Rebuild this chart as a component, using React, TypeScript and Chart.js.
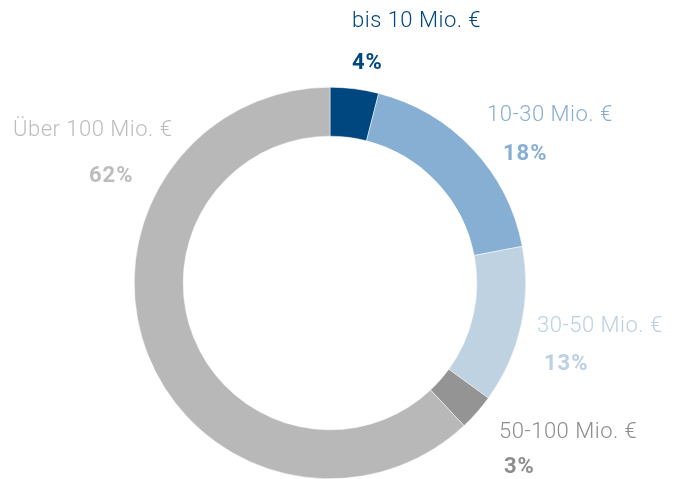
import React, { useEffect, useRef } from "react";
import { Chart, registerables } from "chart.js";

Chart.register(...registerables);

const categories = ["bis 10 Mio. €", "10-30 Mio. €", "30-50 Mio. €", "50-100 Mio. €", "Über 100 Mio. €"];
const shares = [4, 18, 13, 3, 62];
const percentLabels = ["4%", "18%", "13%", "3%", "62%"];
const sliceColors = ["#00467f", "#87afd4", "#bfd2e2", "#949494", "#b8b8b8"];
const textColors = ["#00467f", "#87afd4", "#bcd0e2", "#8e8e8e", "#bdbdbd"];

// layout: [name x, name baseline, percent x, percent baseline]
const labelLayout = [
  [352, 27, 352, 69],
  [487, 121, 503, 160],
  [537, 332, 544, 370],
  [499, 438, 504, 473],
  [13, 136, 89, 182],
];

const labelPlugin = {
  id: "sliceLabels",
  afterDraw(chart: any) {
    const ctx = chart.ctx;
    ctx.save();
    ctx.textAlign = "left";
    ctx.textBaseline = "alphabetic";
    categories.forEach((name, i) => {
      const [nx, ny, px, py] = labelLayout[i];
      ctx.fillStyle = textColors[i];
      ctx.font = "300 22px Roboto, 'Noto Sans', sans-serif";
      (ctx as any).letterSpacing = "0.5px";
      ctx.fillText(name, nx, ny);
      ctx.font = "bold 22px Roboto, 'Noto Sans', sans-serif";
      (ctx as any).letterSpacing = "1px";
      ctx.fillText(percentLabels[i], px, py);
    });
    ctx.restore();
  },
};

export default function App() {
  const ref = useRef<HTMLCanvasElement>(null);
  useEffect(() => {
    if (!ref.current) return;
    const chart = new Chart(ref.current, {
      type: "doughnut",
      data: {
        labels: categories,
        datasets: [
          {
            data: shares,
            backgroundColor: sliceColors,
            borderWidth: 0.5,
            borderColor: "#ffffff",
          },
        ],
      },
      options: {
        animation: false,
        responsive: false,
        maintainAspectRatio: false,
        cutout: "75%",
        rotation: 0,
        layout: { padding: { left: 134, right: 158, top: 87, bottom: 0 } },
        plugins: { legend: { display: false }, tooltip: { enabled: false } },
      },
      plugins: [labelPlugin],
    });
    return () => chart.destroy();
  }, []);
  return (
    <div style={{ position: "absolute", left: 0, top: 0, width: 684, height: 479, background: "#fff" }}>
      <canvas ref={ref} width={684} height={479} style={{ width: 684, height: 479 }} />
    </div>
  );
}
